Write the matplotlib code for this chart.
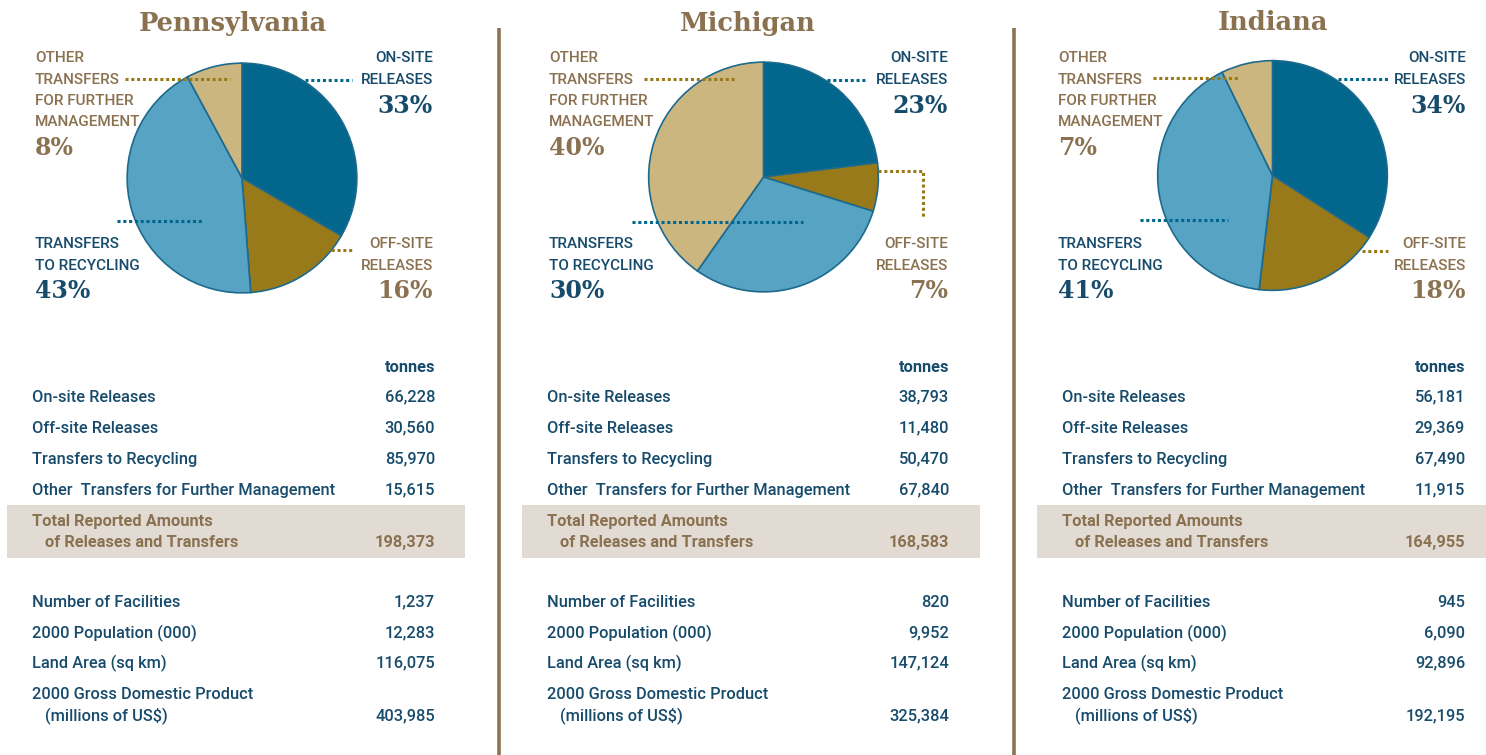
import matplotlib
matplotlib.use("Agg")
import matplotlib.pyplot as plt
from matplotlib.patches import Rectangle

# data (tonnes)
states = ["Pennsylvania", "Michigan", "Indiana"]
on_site = [66228, 38793, 56181]
off_site = [30560, 11480, 29369]
recycling = [85970, 50470, 67490]
other = [15615, 67840, 11915]
totals = [198373, 168583, 164955]

pct_on = [33, 23, 34]
pct_off = [16, 7, 18]
pct_rec = [43, 30, 41]
pct_other = [8, 40, 7]

facilities = [1237, 820, 945]
population = [12283, 9952, 6090]
land_area = [116075, 147124, 92896]
gdp = [403985, 325384, 192195]

# colours
BLUE_TXT = "#174b6b"
BROWN_TXT = "#8a7150"
C_ON = "#02668d"
C_OFF = "#987a1a"
C_REC = "#56a3c4"
C_OTH = "#cbb680"
BOX = "#e2dbd3"
SEP = "#8c7352"

SANS = ["Roboto", "DejaVu Sans"]
SERIF = ["DejaVu Serif"]

W, H = 1486, 755
fig = plt.figure(figsize=(W / 100, H / 100), dpi=100)

# pie centres and radius in pixels
centres = [(242, 178), (763.5, 177), (1272.5, 175.5)]
R = 116

for i in range(3):
    cx, cy = centres[i]
    pax = fig.add_axes([(cx - R) / W, 1 - (cy + R) / H, 2 * R / W, 2 * R / H])
    pax.pie([on_site[i], off_site[i], recycling[i], other[i]],
            colors=[C_ON, C_OFF, C_REC, C_OTH], startangle=90, counterclock=False,
            wedgeprops=dict(edgecolor="#1d6a8c", linewidth=1.2))
    pax.set_xlim(-1.01, 1.01)
    pax.set_ylim(-1.01, 1.01)
    pax.set_aspect("equal")
    pax.axis("off")

# overlay axes in pixel coords for text, leaders, boxes
ax = fig.add_axes([0, 0, 1, 1], facecolor="none")
ax.set_xlim(0, W)
ax.set_ylim(H, 0)
ax.axis("off")

# separators
for x in [498.5, 1013.5]:
    ax.plot([x, x], [28, H], color=SEP, lw=2.6, solid_capstyle="butt")

title_x = [233, 748, 1273]
lab_left = [35, 549, 1058]
lab_right = [433, 948, 1466]
tab_left = [32, 547, 1062]
tab_right = [435, 949, 1465]
box_left = [7, 522, 1037]

# leader lines: (xs, ys, colour)
leaders = [
    [([125, 230], [79, 79], C_OFF), ([305, 352], [80, 80], C_ON),
     ([117, 203], [221, 221], C_ON), ([308, 352], [250, 250], C_OFF)],
    [([644, 737], [79, 79], C_OFF), ([827, 867], [80, 80], C_ON),
     ([632, 803], [222, 222], C_ON), ([878, 923, 923], [171, 171, 218], C_OFF)],
    [([1153, 1240], [78, 78], C_OFF), ([1338, 1388], [79, 79], C_ON),
     ([1140, 1228], [220, 220], C_ON), ([1362, 1388], [251, 251], C_OFF)],
]

lab_fs = 11
pct_fs = 17
tab_fs = 11.8
MED = "medium"


def sans(x, y, s, ha, color, size=tab_fs, weight=MED):
    # y is the visual centre of the capitals; place on the baseline
    base = y + 0.355 * size * 100 / 72
    ax.text(x, base, s, ha=ha, va="baseline", family=SANS, fontsize=size,
            fontweight=weight, color=color)


for i in range(3):
    ax.text(title_x[i], 23, states[i], ha="center", va="center", family=SERIF,
            fontweight="bold", fontsize=18.5, color=BROWN_TXT)

    for xs, ys, c in leaders[i]:
        ax.plot(xs, ys, color=c, lw=2.2, linestyle=(0, (1.0, 0.9)), solid_capstyle="butt")

    L, Rr = lab_left[i], lab_right[i]
    # other transfers (top left)
    for k, line in enumerate(["OTHER", "TRANSFERS", "FOR FURTHER", "MANAGEMENT"]):
        sans(L, 57 + k * 21.3, line, "left", BROWN_TXT, lab_fs)
    ax.text(L, 148, f"{pct_other[i]}%", ha="left", va="center", family=SERIF,
            fontweight="bold", fontsize=pct_fs, color=BROWN_TXT)
    # on-site (top right)
    for k, line in enumerate(["ON-SITE", "RELEASES"]):
        sans(Rr, 57 + k * 21.3, line, "right", BLUE_TXT, lab_fs)
    ax.text(Rr, 106, f"{pct_on[i]}%", ha="right", va="center", family=SERIF,
            fontweight="bold", fontsize=pct_fs, color=BLUE_TXT)
    # recycling (bottom left)
    for k, line in enumerate(["TRANSFERS", "TO RECYCLING"]):
        sans(L, 243 + k * 21.3, line, "left", BLUE_TXT, lab_fs)
    ax.text(L, 291, f"{pct_rec[i]}%", ha="left", va="center", family=SERIF,
            fontweight="bold", fontsize=pct_fs, color=BLUE_TXT)
    # off-site (bottom right)
    for k, line in enumerate(["OFF-SITE", "RELEASES"]):
        sans(Rr, 243 + k * 21.3, line, "right", BROWN_TXT, lab_fs)
    ax.text(Rr, 291, f"{pct_off[i]}%", ha="right", va="center", family=SERIF,
            fontweight="bold", fontsize=pct_fs, color=BROWN_TXT)

    # table
    tl, tr = tab_left[i], tab_right[i]
    sans(tr, 366, "tonnes", "right", BLUE_TXT, weight="bold")
    rows = [("On-site Releases", on_site[i]), ("Off-site Releases", off_site[i]),
            ("Transfers to Recycling", recycling[i]),
            ("Other  Transfers for Further Management", other[i])]
    for k, (name, v) in enumerate(rows):
        y = 396 + k * 31
        sans(tl, y, name, "left", BLUE_TXT)
        sans(tr, y, f"{v:,}", "right", BLUE_TXT)

    ax.add_patch(Rectangle((box_left[i], 505), 458, 53, facecolor=BOX, edgecolor="none"))
    sans(tl, 520, "Total Reported Amounts", "left", BROWN_TXT, weight="bold")
    sans(tl + 13, 541, "of Releases and Transfers", "left", BROWN_TXT, weight="bold")
    sans(tr, 541, f"{totals[i]:,}", "right", BROWN_TXT, weight="bold")

    rows2 = [("Number of Facilities", facilities[i], 601),
             ("2000 Population (000)", population[i], 632),
             ("Land Area (sq km)", land_area[i], 662)]
    for name, v, y in rows2:
        sans(tl, y, name, "left", BLUE_TXT)
        sans(tr, y, f"{v:,}", "right", BLUE_TXT)
    sans(tl, 693, "2000 Gross Domestic Product", "left", BLUE_TXT)
    sans(tl + 13, 715, "(millions of US$)", "left", BLUE_TXT)
    sans(tr, 715, f"{gdp[i]:,}", "right", BLUE_TXT)

fig.savefig("out.png", dpi=100)
